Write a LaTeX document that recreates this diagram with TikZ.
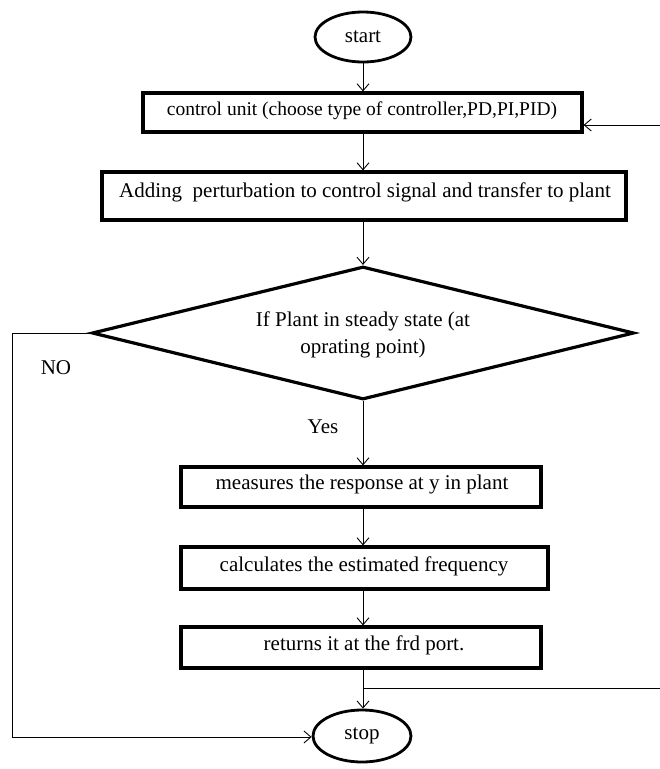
\documentclass[tikz,border=0pt]{standalone}
\usepackage{fontspec}
\setmainfont{Liberation Serif}
\usetikzlibrary{shapes.geometric,arrows.meta}
\begin{document}
\begin{tikzpicture}[x=1pt,y=-1pt,
  every node/.style={font=\fontsize{21}{27}\selectfont},
  procbox/.style={draw, line width=3.2pt, rectangle, inner sep=0pt},
  term/.style={draw, line width=2.8pt, ellipse, inner sep=0pt},
  decide/.style={draw, line width=3.2pt, diamond, inner sep=0pt},
  flow/.style={line width=0.9pt, -{Straight Barb[length=7pt,width=12pt,line width=0.9pt]}},
  wire/.style={line width=0.9pt}]
\useasboundingbox (0,0) rectangle (660,769);

% terminals
\node[term, minimum width=96, minimum height=50] (start) at (363,37) {start};
\node[term, minimum width=98, minimum height=52] (stop) at (362,736) {stop};

% process boxes
\node[procbox, minimum width=439, minimum height=39] (cu) at (362.5,112.5) {};
\node[font=\fontsize{19.5}{24}\selectfont] (cutext) at (362,111)
  {control unit (choose type of controller,PD,PI,PID)};
\node[procbox, minimum width=524, minimum height=48] (add) at (364,196) {};
\node (addtext) at (365,192)
  {Adding\ \ perturbation to control signal and transfer to plant};
\node[decide, minimum width=542, minimum height=133] (dec) at (363,333) {};
\node[align=center] (dectext) at (363,335)
  {If Plant in steady state (at\\oprating point)};
\node[procbox, minimum width=360, minimum height=40] (meas) at (361,487) {};
\node (meastext) at (362,484) {measures the response at y in plant};
\node[procbox, minimum width=367, minimum height=42] (calc) at (364.5,568) {};
\node (calctext) at (364,566) {calculates the estimated frequency};
\node[procbox, minimum width=360, minimum height=41] (ret) at (361,647.5) {};
\node (rettext) at (364,645) {returns it at the frd port.};

% branch labels
\node (no) at (56,368) {NO};
\node (yes) at (323,427) {Yes};

% helper points
\coordinate (fbin) at (660,125);
\coordinate (fbout) at (660,688);
\coordinate (join) at (363,688);
\coordinate (nocorner1) at (12,333);
\coordinate (nocorner2) at (12,737);

% main flow
\draw[flow] (start.south) -- (start.south |- cu.north);
\draw[flow] (cu.south -| 363,0) -- (363,0 |- add.north);
\draw[flow] (add.south -| 363,0) -- (dec.north);
\draw[flow] (dec.south) -- (363,0 |- meas.north);
\draw[flow] (meas.south -| 363,0) -- (363,0 |- calc.north);
\draw[flow] (calc.south -| 363,0) -- (363,0 |- ret.north);
\draw[flow] (ret.south -| 363,0) -- (363,0 |- stop.north);

% feedback lines at the right edge
\draw[flow] (fbin) -- (fbin -| cu.east);
\draw[wire] (join) -- (fbout);

% NO branch
\draw[flow] (dec.west) -- (nocorner1) -- (nocorner2) -- (nocorner2 -| stop.west);
\end{tikzpicture}
\end{document}
